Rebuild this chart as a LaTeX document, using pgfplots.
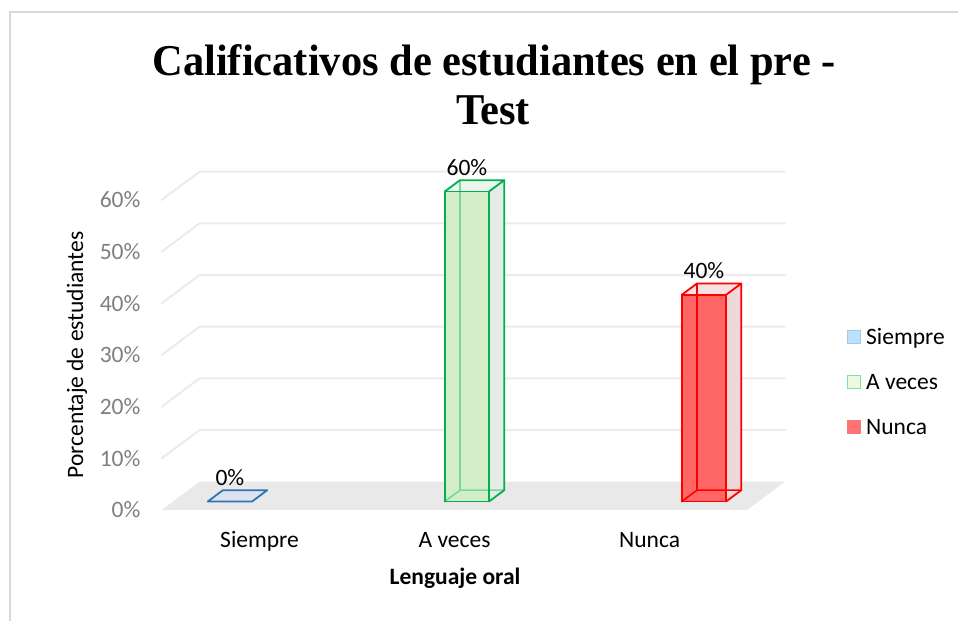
\documentclass[border=0pt]{standalone}
\usepackage{fontspec}
\setmainfont{Carlito}
\newfontfamily\titlefont{Liberation Serif}
\usepackage{pgfplots}
\pgfplotsset{compat=1.18}

\definecolor{frameC}{HTML}{D9D9D9}
\definecolor{floorC}{HTML}{E9E9E9}
\definecolor{gridC}{HTML}{EBEBEB}
\definecolor{tickC}{HTML}{7F7F7F}
\definecolor{blueE}{HTML}{2E75B6}
\definecolor{blueF}{HTML}{DDE3EA}
\definecolor{greenE}{HTML}{00B050}
\definecolor{greenH}{HTML}{7CD698}
\definecolor{greenF}{HTML}{D4EDC9}
\definecolor{greenS}{HTML}{E5ECE5}
\definecolor{greenT}{HTML}{EEF4EE}
\definecolor{redE}{HTML}{FF0000}
\definecolor{redF}{HTML}{FF6666}
\definecolor{redS}{HTML}{EDD9D9}
\definecolor{redT}{HTML}{F5E3E3}
\definecolor{legBlueF}{HTML}{BDE1F8}
\definecolor{legBlueE}{HTML}{9DCBEF}
\definecolor{legGreenF}{HTML}{F0F8E2}
\definecolor{legGreenE}{HTML}{7FE3A6}
\definecolor{legRed}{HTML}{FF7373}

\newcommand\lbl{\fontsize{23.5}{28}\selectfont}
\newcommand\ttl{\titlefont\bfseries\fontsize{44}{50}\selectfont}

\begin{document}
\begin{tikzpicture}
\path[use as bounding box] (0pt,0pt) rectangle (958pt,621pt);
\draw[frameC,line width=1.2pt] (10pt,0pt) -- (10pt,609pt) -- (958pt,609pt);

% title, two lines
\node[anchor=base,inner sep=0pt] at (494pt,545pt)
  {\scalebox{0.965}[1]{\ttl Calificativos de estudiantes en el pre -}};
\node[anchor=base,inner sep=0pt] at (493pt,496pt)
  {\scalebox{0.965}[1]{\ttl Test}};

% axis titles
\node[font=\lbl,rotate=90,inner sep=0pt] at (77pt,266pt) {Porcentaje de estudiantes};
\node[font=\lbl\bfseries,inner sep=0pt] at (455pt,43pt) {Lenguaje oral};

% legend
\filldraw[fill=legBlueF,draw=legBlueE,line width=1pt] (847pt,277pt) rectangle (860pt,290pt);
\node[font=\lbl,anchor=base west,inner sep=0pt] at (866pt,276pt) {Siempre};
\filldraw[fill=legGreenF,draw=legGreenE,line width=1pt] (847pt,232pt) rectangle (860pt,245pt);
\node[font=\lbl,anchor=base west,inner sep=0pt] at (866pt,231pt) {A veces};
\filldraw[fill=legRed,draw=legRed,line width=1pt] (847pt,187pt) rectangle (860pt,200pt);
\node[font=\lbl,anchor=base west,inner sep=0pt] at (866pt,186pt) {Nunca};

\begin{axis}[
  at={(218.5pt,111pt)}, anchor=origin,
  x={(237pt,0pt)}, y={(38pt,28.3pt)}, z={(0pt,5.167pt)},
  xmin=-0.24, xmax=2.23, ymin=0, ymax=1, zmin=0, zmax=60,
  hide axis, clip=false,
  every axis plot/.append style={line join=round,line cap=round},
]
% floor
\addplot3[draw=none,fill=floorC] coordinates {(-0.24,0,0) (2.23,0,0) (2.23,1,0) (-0.24,1,0)};
% gridlines
\pgfplotsinvokeforeach{10,20,30,40,50,60}{
  \addplot3[gridC,line width=2pt] coordinates {(-0.24,0,#1) (-0.24,1,#1) (2.23,1,#1)};
}
% tick labels
\pgfplotsinvokeforeach{0,10,20,30,40,50,60}{
  \node[font=\lbl,text=tickC,anchor=east,inner sep=0pt,xshift=-21pt]
    at (axis cs:-0.24,0,#1) {#1\%};
}

% Siempre: 0%
\addplot3[draw=blueE,line width=1.8pt,fill=blueF] coordinates
  {(-0.0935,0.3,0) (0.0935,0.3,0) (0.0935,0.7,0) (-0.0935,0.7,0) (-0.0935,0.3,0)};

% A veces: 60%
\addplot3[draw=none,fill=greenS] coordinates {(1.0935,0.3,0) (1.0935,0.7,0) (1.0935,0.7,60) (1.0935,0.3,60)};
\addplot3[draw=none,fill=greenT] coordinates {(0.9065,0.3,60) (1.0935,0.3,60) (1.0935,0.7,60) (0.9065,0.7,60)};
\addplot3[draw=none,fill=greenF] coordinates {(0.9065,0.3,0) (1.0935,0.3,0) (1.0935,0.3,60) (0.9065,0.3,60)};
\addplot3[greenH,line width=1.6pt] coordinates {(0.9065,0.3,0) (0.9065,0.7,0) (1.0935,0.7,0)};
\addplot3[greenH,line width=1.6pt] coordinates {(0.9065,0.7,0) (0.9065,0.7,60)};
\addplot3[greenE,line width=1.8pt] coordinates {(0.9065,0.3,0) (1.0935,0.3,0) (1.0935,0.3,60) (0.9065,0.3,60) (0.9065,0.3,0)};
\addplot3[greenE,line width=1.8pt] coordinates {(0.9065,0.3,60) (0.9065,0.7,60) (1.0935,0.7,60) (1.0935,0.3,60)};
\addplot3[greenE,line width=1.8pt] coordinates {(1.0935,0.3,0) (1.0935,0.7,0) (1.0935,0.7,60)};

% Nunca: 40%
\addplot3[draw=none,fill=redS] coordinates {(2.0935,0.3,0) (2.0935,0.7,0) (2.0935,0.7,40) (2.0935,0.3,40)};
\addplot3[draw=none,fill=redT] coordinates {(1.9065,0.3,40) (2.0935,0.3,40) (2.0935,0.7,40) (1.9065,0.7,40)};
\addplot3[draw=none,fill=redF] coordinates {(1.9065,0.3,0) (2.0935,0.3,0) (2.0935,0.3,40) (1.9065,0.3,40)};
\addplot3[redE,line width=1.6pt] coordinates {(1.9065,0.3,0) (1.9065,0.7,0) (2.0935,0.7,0)};
\addplot3[redE,line width=1.6pt] coordinates {(1.9065,0.7,0) (1.9065,0.7,40)};
\addplot3[redE,line width=1.8pt] coordinates {(1.9065,0.3,0) (2.0935,0.3,0) (2.0935,0.3,40) (1.9065,0.3,40) (1.9065,0.3,0)};
\addplot3[redE,line width=1.8pt] coordinates {(1.9065,0.3,40) (1.9065,0.7,40) (2.0935,0.7,40) (2.0935,0.3,40)};
\addplot3[redE,line width=1.8pt] coordinates {(2.0935,0.3,0) (2.0935,0.7,0) (2.0935,0.7,40)};

% data labels
\node[font=\lbl,anchor=base,inner sep=0pt,yshift=16pt] at (axis cs:0,0.3,0) {0\%};
\node[font=\lbl,anchor=base,inner sep=0pt,yshift=16pt] at (axis cs:1,0.3,60) {60\%};
\node[font=\lbl,anchor=base,inner sep=0pt,yshift=16pt] at (axis cs:2,0.3,40) {40\%};

% category labels
\node[font=\lbl,anchor=base,inner sep=0pt,yshift=-38pt] at (axis cs:0.173,0,0) {Siempre};
\node[font=\lbl,anchor=base,inner sep=0pt,yshift=-38pt] at (axis cs:0.996,0,0) {A veces};
\node[font=\lbl,anchor=base,inner sep=0pt,yshift=-38pt] at (axis cs:1.819,0,0) {Nunca};
\end{axis}
\end{tikzpicture}
\end{document}
